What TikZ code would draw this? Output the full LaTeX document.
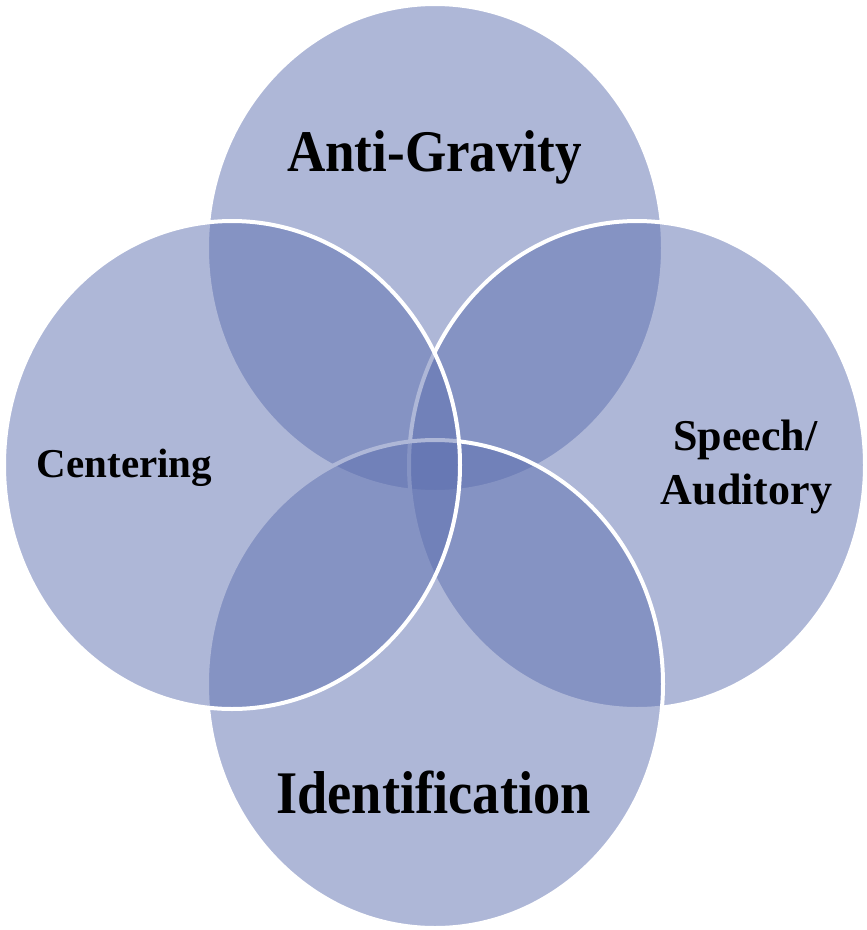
\documentclass[tikz,border=0pt]{standalone}
\usepackage{fontspec}
\setmainfont{Liberation Serif}
\newfontfamily\narrowserif{Liberation Serif}[FakeStretch=0.9]
\definecolor{vcol}{RGB}{94,112,176}
\tikzset{
  vellipse/.style={fill=vcol, fill opacity=0.5, draw=white, draw opacity=1, line width=4pt},
  vlabel/.style={inner sep=0pt, anchor=base, text=black, font=\bfseries}
}
\begin{document}
\begin{tikzpicture}[x=1pt,y=-1pt]
\useasboundingbox (0,0) rectangle (867,930);
\fill[white] (0,0) rectangle (867,930);
% order: top, right, bottom, left
\draw[vellipse] (435,248) ellipse [x radius=228pt, y radius=244pt];
\draw[vellipse] (637,465) ellipse [x radius=228pt, y radius=244pt];
\draw[vellipse] (435,684) ellipse [x radius=228pt, y radius=244pt];
\draw[vellipse] (232,465) ellipse [x radius=228pt, y radius=244pt];
\node[vlabel, font=\narrowserif\bfseries\fontsize{59}{64}\selectfont] (ag) at (434.5,171) {Anti-Gravity};
\node[vlabel, font=\narrowserif\bfseries\fontsize{60.5}{66}\selectfont] (id) at (433.5,813) {Identification};
\node[vlabel, font=\bfseries\fontsize{41}{50}\selectfont] (ce) at (124.5,477) {Centering};
\node[vlabel, font=\bfseries\fontsize{44}{54}\selectfont] (sp1) at (745.5,450) {Speech/};
\node[vlabel, font=\bfseries\fontsize{44}{54}\selectfont] (sp2) at (746.5,504) {Auditory};
\end{tikzpicture}
\end{document}
